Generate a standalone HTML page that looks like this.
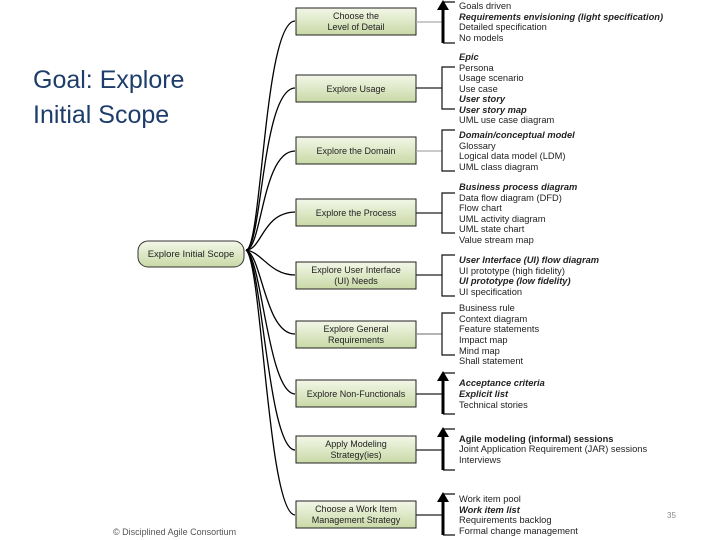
<!DOCTYPE html>
<html><head><meta charset="utf-8"><style>
html,body{margin:0;padding:0;background:#fff;}
svg{display:block;}
text{font-family:"Liberation Sans",sans-serif;}
</style></head><body>
<svg width="720" height="540" viewBox="0 0 720 540" xmlns="http://www.w3.org/2000/svg">
<defs>
<linearGradient id="g" x1="0" y1="0" x2="0" y2="1">
<stop offset="0" stop-color="#f3f7e8"/><stop offset="1" stop-color="#c9d9a6"/>
</linearGradient>
</defs>
<text x="33" y="88" font-size="25" fill="#1f3d6b">Goal: Explore</text>
<text x="33" y="123" font-size="25" fill="#1f3d6b">Initial Scope</text>
<text x="113" y="535" font-size="9" fill="#555">© Disciplined Agile Consortium</text>
<text x="667" y="518" font-size="8" fill="#888">35</text>

<g fill="none" stroke="#000" stroke-width="1.3">
<path d="M246,250 C262,250 264,22 295,21"/>
<path d="M246,250 C262,250 262,89 295,88"/>
<path d="M246,250 C262,250 262,151 295,151"/>
<path d="M246,250 C262,250 262,213 295,212"/>
<path d="M246,250 C262,252 270,275 295,275"/>
<path d="M246,250 C262,255 265,334 295,334"/>
<path d="M246,250 C262,258 268,393 295,394"/>
<path d="M246,250 C262,260 268,449 295,450"/>
<path d="M246,250 C262,262 268,514 295,515"/>
</g>

<rect x="138" y="241" width="106" height="26" rx="10" fill="url(#g)" stroke="#333" stroke-width="1"/>
<text x="191" y="257" font-size="9.5" text-anchor="middle" fill="#222">Explore Initial Scope</text>

<g stroke="#222" stroke-width="1" fill="url(#g)">
<rect x="296" y="8" width="120" height="27"/>
<rect x="296" y="75" width="120" height="27"/>
<rect x="296" y="137" width="120" height="27"/>
<rect x="296" y="199" width="120" height="27"/>
<rect x="296" y="262" width="120" height="27"/>
<rect x="296" y="321" width="120" height="27"/>
<rect x="296" y="380" width="120" height="27"/>
<rect x="296" y="436" width="120" height="27"/>
<rect x="296" y="501" width="120" height="27"/>
</g>
<g font-size="9" text-anchor="middle" fill="#222">
<text x="356" y="19">Choose the</text><text x="356" y="30">Level of Detail</text>
<text x="356" y="92">Explore Usage</text>
<text x="356" y="154">Explore the Domain</text>
<text x="356" y="216">Explore the Process</text>
<text x="356" y="273">Explore User Interface</text><text x="356" y="284">(UI) Needs</text>
<text x="356" y="332">Explore General</text><text x="356" y="343">Requirements</text>
<text x="356" y="397">Explore Non-Functionals</text>
<text x="356" y="447">Apply Modeling</text><text x="356" y="458">Strategy(ies)</text>
<text x="356" y="512">Choose a Work Item</text><text x="356" y="523">Management Strategy</text>
</g>

<g stroke-width="1.3" fill="none">
<path d="M416,22 H442" stroke="#aaa"/>
<path d="M416,88 H442" stroke="#222"/>
<path d="M416,151 H442" stroke="#aaa"/>
<path d="M416,213 H442" stroke="#222"/>
<path d="M416,275 H442" stroke="#222"/>
<path d="M416,334 H442" stroke="#888"/>
<path d="M416,394 H442" stroke="#222"/>
<path d="M416,450 H442" stroke="#222"/>
<path d="M416,515 H442" stroke="#222"/>
</g>
<g stroke="#111" stroke-width="1.2" fill="none">
<path d="M455,67 H442 V109 H455"/>
<path d="M455,130 H442 V171 H455"/>
<path d="M455,193 H442 V233 H455"/>
<path d="M455,255 H442 V296 H455"/>
<path d="M455,313 H442 V355 H455"/>
<path d="M443,2 H455 M443,43 H455"/>
<path d="M443,373 H455 M443,414 H455"/>
<path d="M443,429 H455 M443,470 H455"/>
<path d="M443,494 H455 M443,535 H455"/>
</g>
<g stroke="#000" stroke-width="3">
<path d="M443,8 V43"/><path d="M443,379 V414"/><path d="M443,435 V470"/><path d="M443,500 V535"/>
</g>
<g fill="#000">
<path d="M437,10 L443,0 L449,10 Z"/><path d="M437,381 L443,371 L449,381 Z"/>
<path d="M437,437 L443,427 L449,437 Z"/><path d="M437,502 L443,492 L449,502 Z"/>
</g>

<g font-size="9.3" fill="#222">
<text x="459" y="9">Goals driven</text>
<text x="459" y="20" font-weight="bold" font-style="italic">Requirements envisioning (light specification)</text>
<text x="459" y="30">Detailed specification</text>
<text x="459" y="41">No models</text>

<text x="459" y="60" font-weight="bold" font-style="italic">Epic</text>
<text x="459" y="71">Persona</text>
<text x="459" y="81">Usage scenario</text>
<text x="459" y="92">Use case</text>
<text x="459" y="102" font-weight="bold" font-style="italic">User story</text>
<text x="459" y="113" font-weight="bold" font-style="italic">User story map</text>
<text x="459" y="123">UML use case diagram</text>

<text x="459" y="138" font-weight="bold" font-style="italic">Domain/conceptual model</text>
<text x="459" y="149">Glossary</text>
<text x="459" y="159">Logical data model (LDM)</text>
<text x="459" y="170">UML class diagram</text>

<text x="459" y="190" font-weight="bold" font-style="italic">Business process diagram</text>
<text x="459" y="201">Data flow diagram (DFD)</text>
<text x="459" y="211">Flow chart</text>
<text x="459" y="222">UML activity diagram</text>
<text x="459" y="232">UML state chart</text>
<text x="459" y="243">Value stream map</text>

<text x="459" y="263" font-weight="bold" font-style="italic">User Interface (UI) flow diagram</text>
<text x="459" y="274">UI prototype (high fidelity)</text>
<text x="459" y="284" font-weight="bold" font-style="italic">UI prototype (low fidelity)</text>
<text x="459" y="295">UI specification</text>

<text x="459" y="311">Business rule</text>
<text x="459" y="322">Context diagram</text>
<text x="459" y="332">Feature statements</text>
<text x="459" y="343">Impact map</text>
<text x="459" y="354">Mind map</text>
<text x="459" y="364">Shall statement</text>

<text x="459" y="386" font-weight="bold" font-style="italic">Acceptance criteria</text>
<text x="459" y="397" font-weight="bold" font-style="italic">Explicit list</text>
<text x="459" y="408">Technical stories</text>

<text x="459" y="442" font-weight="bold">Agile modeling (informal) sessions</text>
<text x="459" y="452">Joint Application Requirement (JAR) sessions</text>
<text x="459" y="463">Interviews</text>

<text x="459" y="502">Work item pool</text>
<text x="459" y="513" font-weight="bold" font-style="italic">Work item list</text>
<text x="459" y="523">Requirements backlog</text>
<text x="459" y="534">Formal change management</text>
</g>
</svg>
</body></html>
